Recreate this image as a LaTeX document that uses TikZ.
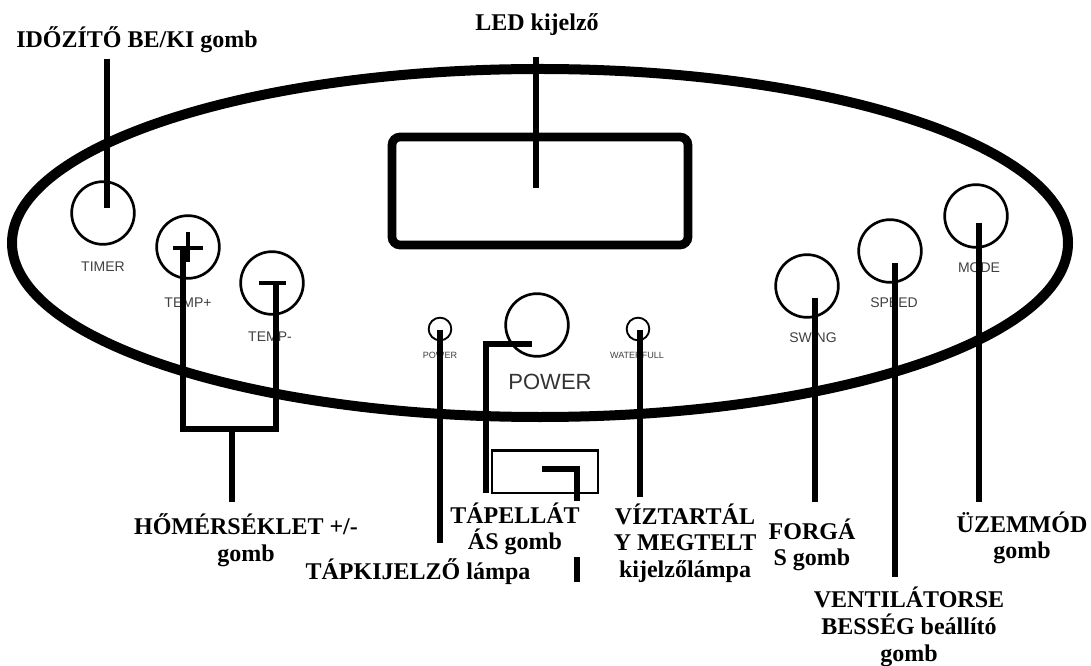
\documentclass[tikz,border=0pt]{standalone}
\usepackage{fontspec}
\setmainfont{Liberation Serif}
\newfontfamily\panelfont{Liberation Sans}
\begin{document}
\begin{tikzpicture}[x=0.75pt,y=-0.75pt,
  frame/.style={line width=7.5pt},
  ledbox/.style={draw,line width=6.5pt,rounded corners=6pt,inner sep=0pt},
  switchbox/.style={draw,line width=2pt,inner sep=0pt},
  btn/.style={circle,draw,line width=2pt,minimum size=47pt,inner sep=0pt},
  lamp/.style={circle,draw,line width=1.4pt,minimum size=17pt,inner sep=0pt},
  lead/.style={line width=5pt},
  callout/.style={font=\fontsize{18}{20}\selectfont\bfseries,align=center,fill=white,inner sep=1pt},
  paneltxt/.style={font=\panelfont\fontsize{10.5}{12}\selectfont,text=black!75,inner sep=0pt},
  tinytxt/.style={font=\panelfont\fontsize{6.8}{8}\selectfont,text=black!75,inner sep=0pt}
]
\useasboundingbox[fill=white] (0,0) rectangle (1091,666);

% outline of the panel
\draw[frame] (540,243) ellipse [x radius=528, y radius=174];

% LED display and switch window
\node[ledbox,minimum width=222pt,minimum height=81pt] (led) at (540,191) {};
\node[switchbox,minimum width=79.5pt,minimum height=32pt] (switch) at (545,471.5) {};

% buttons and lamps
\node[btn] (timer) at (103,213) {};
\node[btn] (tplus) at (188,247) {};
\node[btn] (tminus) at (272,283) {};
\node[btn] (power) at (537,325) {};
\node[btn] (swing) at (807,286) {};
\node[btn] (speed) at (890,251) {};
\node[btn] (mode) at (976,216) {};
\node[lamp] (plamp) at (440,329) {};
\node[lamp] (wlamp) at (638,329) {};

% plus and minus signs
\draw[line width=3pt] (173,248) -- (203,248) (188,232) -- (188,262);
\draw[line width=3pt] (259,283) -- (286,283);

% panel printing
\node[paneltxt] (ttimer) at (103,267) {TIMER};
\node[paneltxt] (ttplus) at (188,303) {TEMP+};
\node[paneltxt] (ttminus) at (270,337) {TEMP-};
\node[tinytxt] (tplamp) at (440,355) {POWER};
\node[tinytxt] (twlamp) at (637,355) {WATERFULL};
\node[font=\panelfont\fontsize{16.5}{18}\selectfont,text=black!80,inner sep=0pt] (tpower) at (550,382) {POWER};
\node[paneltxt] (tswing) at (813,338) {SWING};
\node[paneltxt] (tspeed) at (894,303) {SPEED};
\node[paneltxt] (tmode) at (979,268) {MODE};

% free ends of the leader lines
\coordinate (ledA) at (536,57);   \coordinate (ledB) at (536,188);
\coordinate (timA) at (107,59);   \coordinate (timB) at (107,208);
\coordinate (tpA) at (183,250);   \coordinate (tpB) at (183,429);
\coordinate (tmA) at (276,283);   \coordinate (tmB) at (276,429);
\coordinate (tjA) at (232,429);   \coordinate (tjB) at (232,502);
\coordinate (plA) at (440,330);   \coordinate (plB) at (440,543);
\coordinate (pwA) at (532,344);   \coordinate (pwK) at (486,344); \coordinate (pwB) at (486,493);
\coordinate (swA) at (542,469);   \coordinate (swK) at (577,469); \coordinate (swB) at (577,582);
\coordinate (wlA) at (640,330);   \coordinate (wlB) at (640,497);
\coordinate (sgA) at (815,298);   \coordinate (sgB) at (815,502);
\coordinate (spA) at (895,263);   \coordinate (spB) at (895,577);
\coordinate (mdA) at (979,223);   \coordinate (mdB) at (979,502);

% leader lines
\draw[lead] (ledA) -- (ledB);
\draw[lead] (timA) -- (timB);
\draw[lead] (tpA) -- (tpB) -- (tmB) -- (tmA);
\draw[lead] (tjA) -- (tjB);
\draw[lead] (plA) -- (plB);
\draw[lead] (pwA) -- (pwK) -- (pwB);
\draw[lead] (swA) -- (swK) -- (swB);
\draw[lead] (wlA) -- (wlB);
\draw[lead] (sgA) -- (sgB);
\draw[lead] (spA) -- (spB);
\draw[lead] (mdA) -- (mdB);

% callouts
\node[callout] (lTimer) at (137,40) {IDŐZÍTŐ BE/KI gomb};
\node[callout] (lLed) at (537,25) {LED kijelző};
\node[callout] (lTemp) at (246,540) {HŐMÉRSÉKLET +/-\\gomb};
\node[callout] (lPower) at (515,529) {TÁPELLÁT\\ÁS gomb};
\node[callout] (lLamp) at (418,572) {TÁPKIJELZŐ lámpa};
\node[callout] (lWater) at (685,543) {VÍZTARTÁL\\Y MEGTELT\\kijelzőlámpa};
\node[callout] (lSwing) at (812,545) {FORGÁ\\S gomb};
\node[callout] (lMode) at (1022,538) {ÜZEMMÓD\\gomb};
\node[callout,inner sep=0pt] (lSpeed) at (909,627) {VENTILÁTORSE\\BESSÉG beállító\\gomb};
\end{tikzpicture}
\end{document}
